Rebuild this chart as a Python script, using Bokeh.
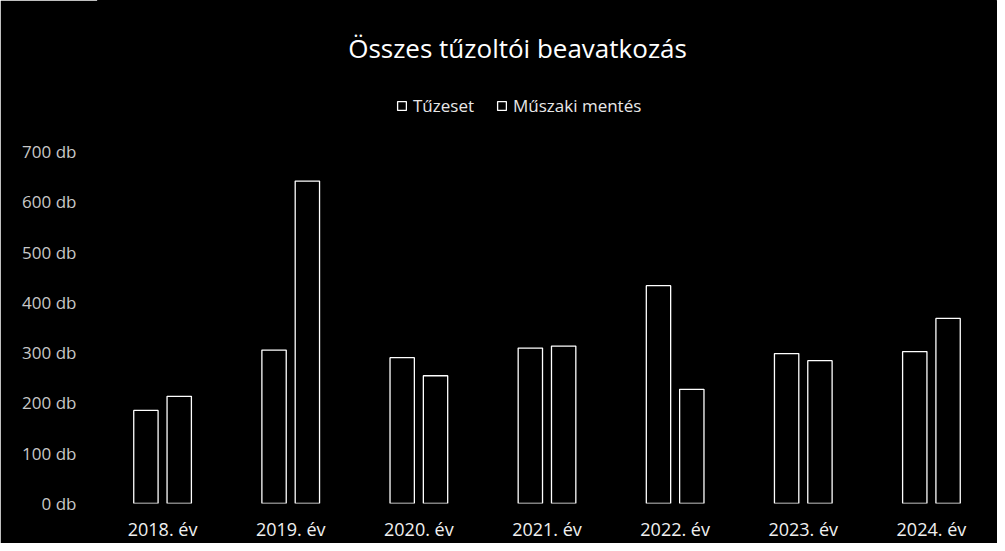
from bokeh.plotting import figure
from bokeh.models import ColumnDataSource, FactorRange, Range1d, FixedTicker, PrintfTickFormatter, Label, Legend, LegendItem
from bokeh.transform import dodge
from bokeh.embed import file_html
from bokeh.resources import INLINE

years = ["2018. év", "2019. év", "2020. év", "2021. év", "2022. év", "2023. év", "2024. év"]
tuzeset = [185, 305, 290, 309, 433, 298, 302]
muszaki = [213, 641, 254, 313, 227, 284, 368]
y_ticks = [0, 100, 200, 300, 400, 500, 600, 700]

src = ColumnDataSource(dict(year=years, tuzeset=tuzeset, muszaki=muszaki))

FONT = "Open Sans"
p = figure(width=997, height=543, output_backend="svg", toolbar_location=None,
           x_range=FactorRange(*years, range_padding=0), y_range=Range1d(0, 1000),
           min_border_left=98, min_border_right=2, min_border_top=0, min_border_bottom=40)
p.background_fill_color = "black"
p.border_fill_color = "black"
p.outline_line_color = "black"
p.outline_line_width = 3
p.grid.grid_line_color = None

r1 = p.vbar(x=dodge("year", -0.13, range=p.x_range), top="tuzeset", width=0.19, source=src,
            fill_color="black", line_color="white", line_width=1.3)
r2 = p.vbar(x=dodge("year", 0.13, range=p.x_range), top="muszaki", width=0.19, source=src,
            fill_color="black", line_color="white", line_width=1.3)

p.yaxis.ticker = FixedTicker(ticks=y_ticks)
p.yaxis.formatter = PrintfTickFormatter(format="%d db")
for ax in (p.xaxis[0], p.yaxis[0]):
    ax.axis_line_color = None
    ax.major_tick_line_color = None
    ax.minor_tick_line_color = None
    ax.major_label_text_font = FONT
p.yaxis.major_label_text_color = "#c8c8c8"
p.yaxis.major_label_text_font_size = "17px"
p.yaxis.major_label_standoff = 16
p.xaxis.major_label_text_color = "#f0f0f0"
p.xaxis.major_label_text_font_size = "18px"
p.xaxis.major_label_standoff = 7

title = Label(x=3.27, y=905, text="Összes tűzoltói beavatkozás", text_align="center",
              text_baseline="middle", text_color="white", text_font=FONT, text_font_size="26px")
p.add_layout(title)

legend = Legend(items=[LegendItem(label="Tűzeset", renderers=[r1]),
                       LegendItem(label="Műszaki mentés", renderers=[r2])],
                orientation="horizontal", location=(298, 386), background_fill_alpha=0,
                border_line_color=None, label_text_color="#e8e8e8", label_text_font=FONT,
                label_text_font_size="17px", glyph_width=11, glyph_height=11,
                label_standoff=6, spacing=22, padding=0, margin=0)
p.add_layout(legend, "center")

open("out.html", "w").write(file_html(p, INLINE))
